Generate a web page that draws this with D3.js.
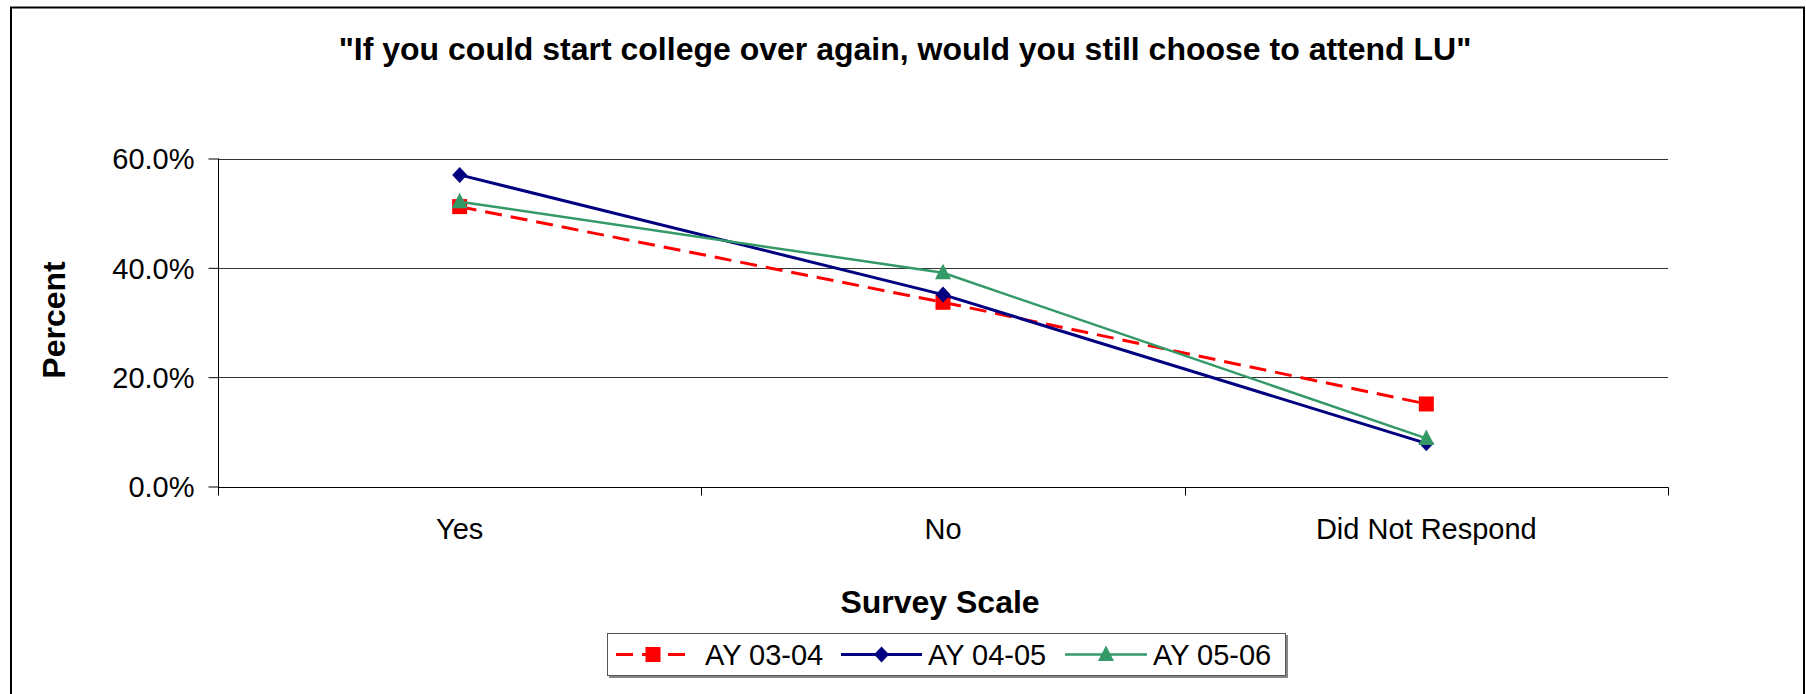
<!DOCTYPE html>
<html>
<head>
<meta charset="utf-8">
<script src="https://cdn.jsdelivr.net/npm/d3@7/dist/d3.min.js"></script>
<style>
  html, body { margin: 0; padding: 0; background: #fff; }
  svg { display: block; font-family: Arial, "Liberation Sans", sans-serif; }
</style>
</head>
<body>
<svg id="chart" width="1806" height="694"></svg>
<script>
// ---- data ----
const categories = ["Yes", "No", "Did Not Respond"];
const seriesNames = ["AY 03-04", "AY 04-05", "AY 05-06"];
const ay0304 = [0.512, 0.337, 0.151];
const ay0405 = [0.570, 0.351, 0.079];
const ay0506 = [0.521, 0.391, 0.088];
const yTicks = [0, 0.2, 0.4, 0.6];
const titleText = "\"If you could start college over again, would you still choose to attend LU\"";
const xTitle = "Survey Scale";
const yTitle = "Percent";

const seriesStyles = [
  { color: "#FF0000", width: 3, dash: "17,9", marker: "square" },
  { color: "#000080", width: 3, dash: null, marker: "diamond" },
  { color: "#339966", width: 2.5, dash: null, marker: "triangle" }
];
const seriesValues = [ay0304, ay0405, ay0506];

const svg = d3.select("#chart");

// outer frame
svg.append("rect").attr("x", 11).attr("y", 7.5).attr("width", 1793).attr("height", 700)
  .attr("fill", "#fff").attr("stroke", "#000").attr("stroke-width", 2);

const plot = { left: 218, right: 1668, top: 158.5, bottom: 486.5 };

const x = d3.scaleBand().domain(categories).range([plot.left, plot.right]).padding(0);
const y = d3.scaleLinear().domain([0, 0.6]).range([plot.bottom, plot.top]);

// gridlines
svg.append("g").selectAll("line").data(yTicks.filter(d => d > 0)).join("line")
  .attr("x1", plot.left).attr("x2", plot.right)
  .attr("y1", d => Math.round(y(d)) + 0.5).attr("y2", d => Math.round(y(d)) + 0.5)
  .attr("stroke", "#333").attr("stroke-width", 1);

// y axis
const yAxis = d3.axisLeft(y).tickValues(yTicks).tickSize(10).tickPadding(14)
  .tickFormat(d3.format(".1%"));
const gy = svg.append("g").attr("transform", `translate(${plot.left + 0.5},0)`).call(yAxis);
gy.select(".domain").attr("d", `M0,${plot.top}V${plot.bottom + 8}`).attr("stroke", "#000");
gy.selectAll(".tick line").attr("stroke", "#000");
gy.selectAll(".tick text").attr("font-size", 29).attr("fill", "#000")
  .attr("font-family", "Arial, 'Liberation Sans', sans-serif").attr("dy", "0.36em");

// x axis: ticks at band boundaries
const gx = svg.append("g").attr("transform", `translate(0,${Math.round(plot.bottom) + 0.5})`);
gx.append("line").attr("x1", plot.left).attr("x2", plot.right + 0.5).attr("stroke", "#000").attr("stroke-width", 1.2);
const boundaries = categories.map(c => x(c)).concat([x(categories[categories.length - 1]) + x.bandwidth()]);
gx.selectAll("line.tk").data(boundaries).join("line").attr("class", "tk")
  .attr("x1", d => Math.round(d) + 0.5).attr("x2", d => Math.round(d) + 0.5)
  .attr("y1", 0).attr("y2", 8).attr("stroke", "#000");
gx.selectAll("text").data(categories).join("text")
  .attr("x", d => x(d) + x.bandwidth() / 2).attr("y", 51)
  .attr("text-anchor", "middle").attr("font-size", 29).attr("fill", "#000").text(d => d);

// titles
svg.append("text").attr("x", 905).attr("y", 60).attr("text-anchor", "middle")
  .attr("font-size", 32).attr("font-weight", "bold").text(titleText);
svg.append("text").attr("x", 940).attr("y", 613).attr("text-anchor", "middle")
  .attr("font-size", 32).attr("font-weight", "bold").text(xTitle);
svg.append("text").attr("transform", "translate(65,320) rotate(-90)").attr("text-anchor", "middle")
  .attr("font-size", 32).attr("font-weight", "bold").text(yTitle);

// marker drawing
function drawMarker(g, type, cx, cy, color) {
  if (type === "square") {
    g.append("rect").attr("x", cx - 7.5).attr("y", cy - 7.5).attr("width", 15).attr("height", 15).attr("fill", color);
  } else if (type === "diamond") {
    g.append("path").attr("d", `M${cx},${cy - 8}L${cx + 7.5},${cy}L${cx},${cy + 8}L${cx - 7.5},${cy}Z`).attr("fill", color);
  } else {
    g.append("path").attr("d", `M${cx},${cy - 9}L${cx + 8},${cy + 6.5}L${cx - 8},${cy + 6.5}Z`).attr("fill", color);
  }
}

const line = d3.line().x((d, i) => x(categories[i]) + x.bandwidth() / 2).y(d => y(d));
seriesValues.forEach((vals, si) => {
  const st = seriesStyles[si];
  const g = svg.append("g");
  g.append("path").attr("d", line(vals)).attr("fill", "none").attr("stroke", st.color)
    .attr("stroke-width", st.width).attr("stroke-dasharray", st.dash);
  vals.forEach((v, i) => drawMarker(g, st.marker, x(categories[i]) + x.bandwidth() / 2, y(v), st.color));
});

// legend
const lg = svg.append("g");
lg.append("rect").attr("x", 609).attr("y", 635).attr("width", 679).attr("height", 43).attr("fill", "#888");
lg.append("rect").attr("x", 607.5).attr("y", 633.5).attr("width", 678).attr("height", 42)
  .attr("fill", "#fff").attr("stroke", "#555").attr("stroke-width", 1);
const legendItems = [
  { lx1: 616, lx2: 690, tx: 705 },
  { lx1: 841, lx2: 922, tx: 928 },
  { lx1: 1065, lx2: 1147, tx: 1153 }
];
seriesNames.forEach((name, si) => {
  const st = seriesStyles[si];
  const it = legendItems[si];
  const cy = 654.5;
  const g = lg.append("g");
  g.append("line").attr("x1", it.lx1).attr("x2", it.lx2).attr("y1", cy).attr("y2", cy)
    .attr("stroke", st.color).attr("stroke-width", st.width).attr("stroke-dasharray", st.dash);
  drawMarker(g, st.marker, (it.lx1 + it.lx2) / 2, cy, st.color);
  g.append("text").attr("x", it.tx).attr("y", cy + 10.5).attr("font-size", 29).attr("fill", "#000").text(name);
});
</script>
</body>
</html>
